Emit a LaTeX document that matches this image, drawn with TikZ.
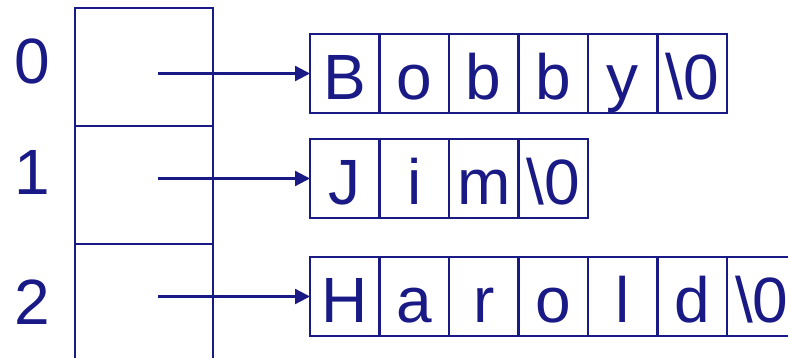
\documentclass[tikz,border=0pt]{standalone}
\usepackage{fontspec}
\setmainfont{Liberation Sans}
\usetikzlibrary{arrows.meta}
\definecolor{navy}{RGB}{26,26,135}
\begin{document}
\begin{tikzpicture}[x=1pt,y=-1pt,
  slot/.style={draw=navy, line width=2.2pt, minimum width=138pt, minimum height=118pt, inner sep=0pt, outer sep=0pt, anchor=north west},
  cell/.style={draw=navy, text=navy, line width=2.2pt, minimum width=69.5pt, text height=66pt, text depth=13pt, inner sep=0pt, outer sep=0pt, anchor=north west, font=\fontsize{64}{64}\selectfont},
  idx/.style={text=navy, font=\fontsize{64}{64}\selectfont, anchor=base, inner sep=0pt},
  ptr/.style={draw=navy, line width=2.3pt, -{Triangle[length=15pt,width=15pt]}}]
\useasboundingbox (0,0) rectangle (788,358);
\clip (0,0) rectangle (788,358);
% array slots
\node[slot] (a0) at (75,8) {};
\node[slot] (a1) at (75,126) {};
\node[slot] (a2) at (75,244) {};
% indices
\node[idx] (l0) at (32,84) {0};
\node[idx] (l1) at (32,195) {1};
\node[idx] (l2) at (32,325) {2};
% strings
\foreach \ch [count=\i from 0] in {B,o,b,b,y,\textbackslash 0}
  \node[cell] (b\i) at ({310+69.5*\i},34) {\ch};
\foreach \ch [count=\i from 0] in {J,i,m,\textbackslash 0}
  \node[cell] (j\i) at ({310+69.5*\i},139) {\ch};
\foreach \ch [count=\i from 0] in {H,a,r,o,l,d,\textbackslash 0}
  \node[cell] (h\i) at ({310+69.5*\i},257) {\ch};
% pointers
\coordinate (p0) at (158,73.5);
\coordinate (p1) at (158,178.5);
\coordinate (p2) at (158,296.5);
\draw[ptr] (p0) -- (b0.west);
\draw[ptr] (p1) -- (j0.west);
\draw[ptr] (p2) -- (h0.west);
\end{tikzpicture}
\end{document}
